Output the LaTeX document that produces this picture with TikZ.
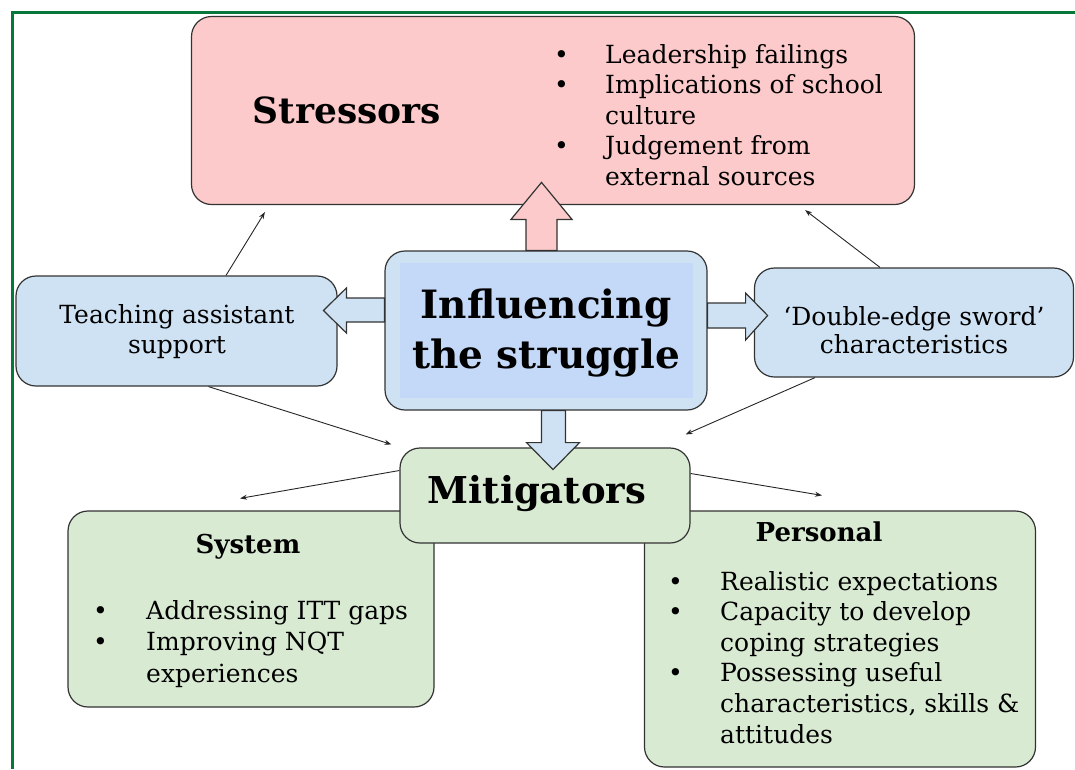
\documentclass[tikz,border=0pt]{standalone}
\usepackage{fontspec}
\setmainfont{DejaVu Serif}
\usetikzlibrary{positioning,calc,arrows.meta}

\definecolor{stresspink}{HTML}{FCCACA}
\definecolor{paleblue}{HTML}{CFE2F3}
\definecolor{innerblue}{HTML}{C4D9F7}
\definecolor{palegreen}{HTML}{D9EAD3}
\definecolor{framegreen}{HTML}{08783A}
\definecolor{edge}{HTML}{333333}

\begin{document}
\begin{tikzpicture}[x=1pt, y=-1pt,
	box/.style={draw=edge, line width=1.2pt, rounded corners=20pt, inner sep=0pt},
	body/.style={inner sep=0pt, font=\fontsize{25}{30}\selectfont},
	head/.style={inner sep=0pt, font=\fontsize{37}{50}\selectfont\bfseries},
	sub/.style={inner sep=0pt, font=\fontsize{26}{30}\selectfont\bfseries},
	thin/.style={draw=black!85, line width=0.9pt, -{Stealth[length=7pt,width=5pt]}},
	blk/.style={draw=edge, line width=1.2pt, line join=miter}]
	\useasboundingbox (0,0) rectangle (1075,769);
	% frame
	\draw[framegreen, line width=3.5pt] (1075,12.5) -- (12.5,12.5) -- (12.5,769);

	% stressors
	\node[box, fill=stresspink, minimum width=723pt, minimum height=188pt] (str) at (553,110.5) {};
	\node[head, anchor=base] (strT) at (347,123) {\fontsize{36}{40}\selectfont Stressors};
	\node[body, anchor=base west] (strL) at (554,63) {\fontsize{25}{30.5}\selectfont
		\begin{tabular}[t]{@{}p{51pt}@{}l@{}}
			\textbullet & Leadership failings\\
			\textbullet & Implications of school\\
			& culture\\
			\textbullet & Judgement from\\
			& external sources
	\end{tabular}};

	% mitigators, the two groups first
	\node[box, fill=palegreen, minimum width=366pt, minimum height=196pt] (sys) at (251,609) {};
	\node[box, fill=palegreen, minimum width=391pt, minimum height=256pt] (per) at (840,639) {};
	\node[box, fill=palegreen, minimum width=290pt, minimum height=95pt] (mit) at (545,495.5) {};
	\node[head, anchor=base] (mitT) at (537,503) {Mitigators};
	\node[sub, anchor=base] (sysT) at (248,553) {System};
	\node[sub, anchor=base] (perT) at (819,541) {Personal};
	\node[body, anchor=base west] (sysL) at (93,619) {\fontsize{25}{31.5}\selectfont
		\begin{tabular}[t]{@{}p{53pt}@{}l@{}}
			\textbullet & Addressing ITT gaps\\
			\textbullet & Improving NQT\\
			& experiences
	\end{tabular}};
	\node[body, anchor=base west] (perL) at (668,590) {\fontsize{25}{30.6}\selectfont
		\begin{tabular}[t]{@{}p{52pt}@{}l@{}}
			\textbullet & Realistic expectations\\
			\textbullet & Capacity to develop\\
			& coping strategies\\
			\textbullet & Possessing useful\\
			& characteristics, skills \&\\
			& attitudes
	\end{tabular}};

	% the side boxes
	\node[box, fill=paleblue, minimum width=321pt, minimum height=110pt] (ta) at (176.5,331) {};
	\node[body, anchor=base] (taT) at (177,323) {\begin{tabular}[t]{@{}c@{}}Teaching assistant\\support\end{tabular}};
	\node[box, fill=paleblue, minimum width=319pt, minimum height=109pt] (dbl) at (914,322.5) {};
	\node[body, anchor=base] (dblT) at (914,325) {\fontsize{25}{28.5}\selectfont\begin{tabular}[t]{@{}c@{}}‘Double-edge sword’\\characteristics\end{tabular}};

	% centre
	\node[box, fill=paleblue, minimum width=322pt, minimum height=159pt,
		path picture={\fill[innerblue, sharp corners] ($(path picture bounding box.south west)+(15,-12)$) rectangle ($(path picture bounding box.north east)+(-14,12)$);}] (infl) at (546,330.5) {};
	\node[head, anchor=base] (inflT) at (546,318) {\fontsize{39}{50}\selectfont\begin{tabular}[t]{@{}c@{}}Influencing\\the struggle\end{tabular}};

	% block arrows out of the centre
	\draw[blk, fill=stresspink, shift={(infl.north)}] (-20,0) -- (-20,-31) -- (-35,-31) -- (-4.5,-68) -- (26,-31) -- (11,-31) -- (11,0) -- cycle;
	\draw[blk, fill=paleblue, shift={(infl.west)}] (0,-32.5) -- (-38,-32.5) -- (-38,-42.5) -- (-61,-20) -- (-38,2.5) -- (-38,-8.5) -- (0,-8.5) -- cycle;
	\draw[blk, fill=paleblue, shift={(infl.east)}] (0,-27.5) -- (38,-27.5) -- (38,-37.5) -- (60,-15) -- (38,9.5) -- (38,-2.5) -- (0,-2.5) -- cycle;
	\draw[blk, fill=paleblue, shift={(infl.south)}] (-4.5,0) -- (-4.5,32) -- (-19.5,32) -- (7,59) -- (33.5,32) -- (19.5,32) -- (19.5,0) -- cycle;

	% thin arrows
	\coordinate (strA) at ($(str.south west)+(74,7)$);
	\coordinate (strB) at ($(str.south east)+(-110,5)$);
	\coordinate (mitA) at ($(mit.north west)+(-8,-3)$);
	\coordinate (mitB) at ($(mit.north east)+(-5,-13)$);
	\coordinate (sysA) at ($(sys.north)+(-11,-12)$);
	\coordinate (perA) at ($(per.north)+(-18,-15)$);
	\draw[thin] ($(ta.north)+(49.5,0)$) -- (strA);
	\draw[thin] ($(dbl.north)+(-34,0)$) -- (strB);
	\draw[thin] ($(ta.south)+(32,0)$) -- (mitA);
	\draw[thin] ($(dbl.south)+(-99,0)$) -- (mitB);
	\draw[thin] ($(mit.west)+(0,-25)$) -- (sysA);
	\draw[thin] ($(mit.east)+(0,-22)$) -- (perA);
\end{tikzpicture}
\end{document}
